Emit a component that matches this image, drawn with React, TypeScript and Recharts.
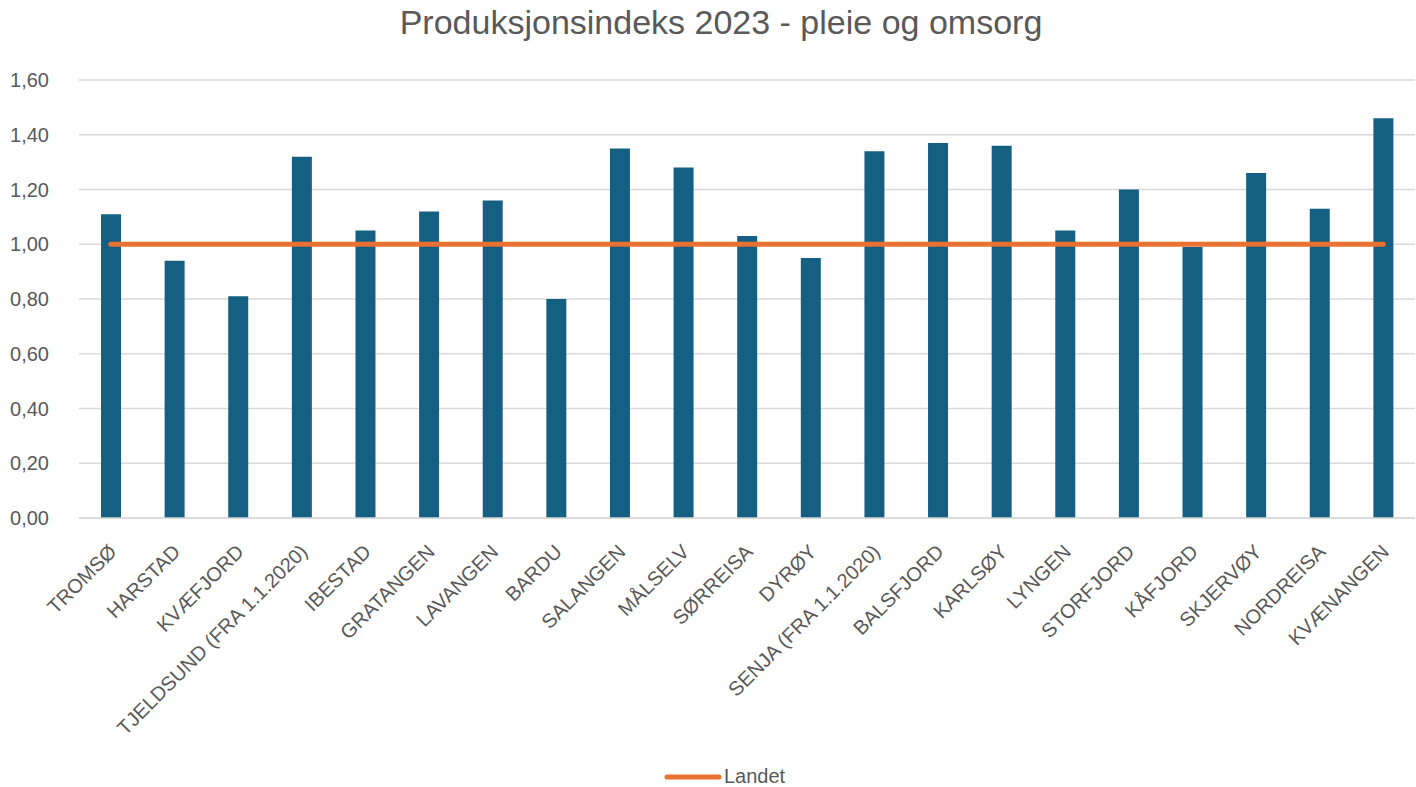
import { ComposedChart, Bar, Line, XAxis, YAxis, CartesianGrid, Legend } from 'recharts';

const kommuner = [
  'TROMSØ', 'HARSTAD', 'KVÆFJORD', 'TJELDSUND (FRA 1.1.2020)', 'IBESTAD', 'GRATANGEN',
  'LAVANGEN', 'BARDU', 'SALANGEN', 'MÅLSELV', 'SØRREISA', 'DYRØY', 'SENJA (FRA 1.1.2020)',
  'BALSFJORD', 'KARLSØY', 'LYNGEN', 'STORFJORD', 'KÅFJORD', 'SKJERVØY', 'NORDREISA', 'KVÆNANGEN',
];

const indeks = [
  1.11, 0.94, 0.81, 1.32, 1.05, 1.12, 1.16, 0.80, 1.35, 1.28, 1.03,
  0.95, 1.34, 1.37, 1.36, 1.05, 1.20, 0.99, 1.26, 1.13, 1.46,
];

const landet = kommuner.map(() => 1.0);

const yTicks = [0, 0.2, 0.4, 0.6, 0.8, 1.0, 1.2, 1.4, 1.6];

const data = kommuner.map((name, i) => ({ name, indeks: indeks[i], landet: landet[i] }));

const FONT = '"Liberation Sans", Arial, sans-serif';
const TEXT_COLOR = '#595959';

const fmt = (v: number) => v.toFixed(2).replace('.', ',');

const KommuneTick = ({ x, y, payload }: any) => (
  <g transform={`translate(${x + 7},${y + 35})`}>
    <text
      x={0}
      y={0}
      textAnchor="end"
      transform="rotate(-45)"
      fill={TEXT_COLOR}
      fontSize={20}
      fontFamily={FONT}
    >
      {payload.value}
    </text>
  </g>
);

const LegendContent = () => (
  <div style={{ display: 'flex', alignItems: 'center', justifyContent: 'center', marginLeft: 34, paddingTop: 8 }}>
    <svg width={58} height={10}>
      <line x1={3} y1={5} x2={55} y2={5} stroke="#E97132" strokeWidth={5} strokeLinecap="round" />
    </svg>
    <span style={{ fontFamily: FONT, fontSize: 20, color: TEXT_COLOR, marginLeft: 2 }}>Landet</span>
  </div>
);

export default function App() {
  return (
    <div style={{ position: 'absolute', left: 0, top: 0, width: 1416, height: 787, background: '#fff' }}>
      <div
        style={{
          position: 'absolute',
          top: 3,
          left: 0,
          width: 1442,
          textAlign: 'center',
          fontFamily: FONT,
          fontSize: 34,
          color: TEXT_COLOR,
        }}
      >
        Produksjonsindeks 2023 - pleie og omsorg
      </div>
      <ComposedChart
        width={1416}
        height={787}
        data={data}
        margin={{ top: 80, right: 1, left: 0, bottom: 0 }}
        barSize={20}
      >
        <CartesianGrid vertical={false} stroke="#d9d9d9" strokeWidth={1.5} />
        <XAxis
          dataKey="name"
          interval={0}
          height={239}
          tickSize={0}
          tickMargin={0}
          axisLine={{ stroke: '#d9d9d9', strokeWidth: 1.5 }}
          tickLine={false}
          tick={<KommuneTick />}
        />
        <YAxis
          width={79}
          domain={[0, 1.6]}
          ticks={yTicks}
          tickFormatter={fmt}
          axisLine={false}
          tickLine={false}
          tickMargin={24}
          tick={{ fill: TEXT_COLOR, fontSize: 20, fontFamily: FONT }}
        />
        <Legend verticalAlign="bottom" height={30} content={<LegendContent />} />
        <Bar dataKey="indeks" fill="#156082" isAnimationActive={false} legendType="none" />
        <Line
          dataKey="landet"
          stroke="#E97132"
          strokeWidth={5}
          strokeLinecap="round"
          dot={false}
          activeDot={false}
          isAnimationActive={false}
        />
      </ComposedChart>
    </div>
  );
}
